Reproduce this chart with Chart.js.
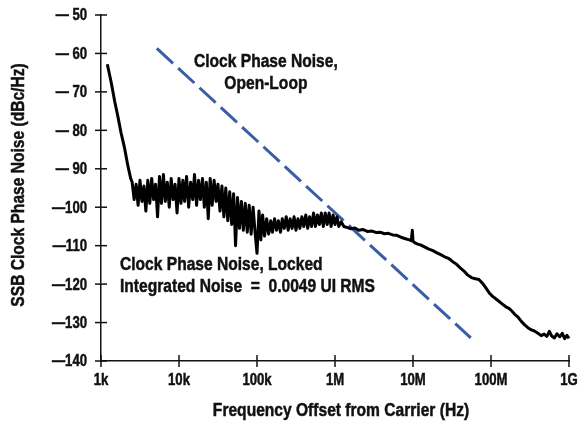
<!DOCTYPE html>
<html lang="en">

<head>
    <meta charset="UTF-8">
    <title>SSB Clock Phase Noise</title>
    <script src="https://cdn.jsdelivr.net/npm/chart.js"></script>
    <style>
        body { margin: 0; background: #fff; }
        .grafico { position: relative; width: 579px; height: 423px; }
    </style>
</head>

<body>
    <div class="grafico">
        <canvas id="graficoRuido"></canvas>
    </div>

    <script>
        // curva travada (frequencia em Hz, ruido em dBc/Hz)
        const freqHz = [
            1205, 1350, 1500, 1650, 1800, 2000, 2200, 2400,
            2510, 2660, 2820, 2990, 3160, 3350, 3550, 3760, 3980, 4220, 4470, 4730,
            5010, 5310, 5620, 5960, 6310, 6680, 7080, 7500, 7940, 8410, 8910, 9440,
            10000, 10600, 11200, 11800, 12500, 13300, 14100, 15000, 15800, 16800,
            17800, 18800, 20000, 21100, 22400, 23700, 25100, 26600, 28200, 29900,
            31600, 33500, 35500, 37600, 39800, 42200, 44700, 47300, 50100, 53100,
            56200, 59600, 63100, 66800, 70800, 75000, 79400, 84100, 89100, 94400,
            100000, 106000, 112000, 118000, 125000, 133000, 141000, 150000, 158000, 168000,
            178000, 188000, 200000, 211000, 224000, 237000, 251000, 266000, 282000, 299000,
            316000, 335000, 355000, 376000, 398000, 422000, 447000, 473000, 501000, 531000,
            562000, 596000, 631000, 668000, 708000, 750000, 794000, 841000, 891000, 944000,
            1000000, 1060000, 1120000, 1200000, 1300000, 1450000, 1600000, 1800000,
            2000000, 2300000, 2600000, 3000000, 3400000, 3800000, 4300000, 4800000,
            5500000, 6200000, 7000000, 8000000, 9000000, 9500000, 9800000, 10000000,
            10600000, 11500000, 12500000, 14000000, 16000000, 18000000, 20000000, 23000000,
            26000000, 29000000, 32000000, 36000000, 40000000, 45000000, 50000000, 56000000,
            63000000, 70000000, 78000000, 86000000, 95000000, 105000000, 115000000, 125000000,
            140000000, 155000000, 170000000, 185000000, 200000000, 220000000, 245000000, 270000000,
            300000000, 330000000, 360000000, 400000000, 440000000, 480000000, 520000000, 560000000,
            600000000, 650000000, 700000000, 760000000, 820000000, 880000000, 940000000, 1000000000,
            1080000000, 1150000000
        ];
        const lockedDb = [
            -62.8, -67.5, -72.5, -76.5, -80.5, -84.5, -89, -92.5,
            -93.5, -98, -94, -99.5, -93, -98.5, -94.5, -101, -93, -99, -92.5, -98,
            -94, -102.5, -92, -99, -91.5, -98.5, -93.5, -100, -92.5, -98, -94, -101.5,
            -92.5, -99, -93, -98.5, -92, -100, -93.5, -98, -91.5, -99.5,
            -93, -98, -92.5, -100, -93.5, -103, -92.5, -99.5, -93, -98.5,
            -94, -101, -94.5, -102.5, -95, -103.5, -96, -104.5, -96.5, -110,
            -97.5, -105.5, -98.5, -106, -99, -106.5, -99.5, -107, -100, -106.5,
            -112, -101, -108.5, -102, -107.5, -103, -107, -103.5, -106.5, -103,
            -106, -103.5, -106.5, -103, -105.5, -102.5, -106, -103, -105.5, -102.5,
            -106, -103, -105.5, -102.5, -105, -102, -105.5, -102.5, -105, -101.5,
            -105, -102, -104.5, -101.5, -105, -101.5, -104.5, -101.5, -105, -102,
            -104.5, -102.5, -105, -103.8, -105, -105.3, -105.6, -105.4,
            -106, -105.8, -106.3, -106.2, -106.6, -106.5, -106.9, -106.8,
            -107.2, -107.3, -107.8, -108.2, -108.5, -108.7, -106, -108.8,
            -109.3, -109.6, -109.8, -110.3, -110.9, -111.3, -111.8, -112.4,
            -113.0, -113.4, -114.1, -114.8, -115.7, -116.6, -117.6, -118.3,
            -118.6, -118.8, -119.8, -121.0, -122.3, -123.2, -123.8, -124.4,
            -125.2, -125.9, -126.3, -127.0, -127.8, -128.5, -129.7, -130.6,
            -131.4, -131.9, -132.2, -132.8, -133.4, -133.0, -133.6, -132.3,
            -133.5, -134.0, -132.9, -133.7, -132.8, -134.2, -133.3, -134.1,
            -133.8, -135.0
        ];

        // reta tracejada (malha aberta)
        const openLoopHz = [5200, 55000000];
        const openLoopDb = [-58.7, -134];

        const xTickValues = [1e3, 1e4, 1e5, 1e6, 1e7, 1e8, 1e9];
        const xTickLabels = ['1k', '10k', '100k', '1M', '10M', '100M', '1G'];
        const yTickValues = [-140, -130, -120, -110, -100, -90, -80, -70, -60, -50];
        const yTickLabels = ['\u2014140', '\u2014130', '\u2014120', '\u2014110', '\u2014100',
            '\u2014 90', '\u2014 80', '\u2014 70', '\u2014 60', '\u2014 50'];

        const tituloX = 'Frequency Offset from Carrier (Hz)';
        const tituloY = 'SSB Clock Phase Noise (dBc/Hz)';

        const notas = [
            { texto: 'Clock Phase Noise,', f: 130000, db: -62.2, align: 'center' },
            { texto: 'Open-Loop', f: 130000, db: -67.9, align: 'center' },
            { texto: 'Clock Phase Noise, Locked', f: 1752, db: -114.9, align: 'left' },
            { texto: 'Integrated Noise  =  0.0049 UI RMS', f: 1752, db: -120.6, align: 'left' }
        ];

        const fonte = "'Liberation Sans', Arial, sans-serif";
        const cor = '#111';

        // texto em negrito "estreito" (a figura usa uma fonte condensada)
        function textoEstreito(ctx, texto, x, y, align, tamanho, rotacao) {
            ctx.save();
            ctx.font = 'bold ' + tamanho + 'px ' + fonte;
            ctx.fillStyle = cor;
            ctx.strokeStyle = cor;
            ctx.lineWidth = 0.5;
            ctx.textAlign = align;
            ctx.textBaseline = 'middle';
            ctx.translate(x, y);
            if (rotacao) ctx.rotate(rotacao);
            ctx.scale(0.82, 1);
            ctx.fillText(texto, 0, 0);
            ctx.strokeText(texto, 0, 0);
            ctx.restore();
        }

        // marcas cruzando os eixos, rotulos, titulos e notas
        const eixosENotas = {
            id: 'eixosENotas',
            afterDraw(chart) {
                const ctx = chart.ctx;
                const sx = chart.scales.x;
                const sy = chart.scales.y;
                ctx.save();
                ctx.strokeStyle = cor;
                ctx.lineWidth = 1.5;
                yTickValues.forEach((v, i) => {
                    const py = sy.getPixelForValue(v);
                    ctx.beginPath();
                    ctx.moveTo(sx.left - 6, py);
                    ctx.lineTo(sx.left + 6, py);
                    ctx.stroke();
                    textoEstreito(ctx, yTickLabels[i], sx.left - 14, py + 1, 'right', 16);
                });
                xTickValues.forEach((v, i) => {
                    const px = sx.getPixelForValue(v);
                    ctx.beginPath();
                    ctx.moveTo(px, sy.bottom - 6);
                    ctx.lineTo(px, sy.bottom + 6);
                    ctx.stroke();
                    textoEstreito(ctx, xTickLabels[i], px, sy.bottom + 20, 'center', 16);
                });
                ctx.restore();

                textoEstreito(ctx, tituloX, (sx.left + sx.right) / 2 + 6, 411, 'center', 19);
                textoEstreito(ctx, tituloY, 18.5, (sy.top + sy.bottom) / 2 - 3, 'center', 19, -Math.PI / 2);

                notas.forEach(n => {
                    textoEstreito(ctx, n.texto, sx.getPixelForValue(n.f), sy.getPixelForValue(n.db), n.align, 19);
                });
            }
        };

        function montarPontos(xs, ys) {
            let pontos = [];
            for (let i = 0; i < xs.length; i++) {
                pontos.push({ x: xs[i], y: ys[i] });
            }
            return pontos;
        }

        function plotarGrafico() {
            const config = {
                type: 'line',
                data: {
                    datasets: [{
                        label: 'Locked',
                        data: montarPontos(freqHz, lockedDb),
                        borderColor: '#000',
                        borderWidth: 3,
                        borderJoinStyle: 'round',
                        pointRadius: 0,
                        tension: 0,
                        clip: 6
                    }, {
                        label: 'Open-Loop',
                        data: montarPontos(openLoopHz, openLoopDb),
                        borderColor: '#3a5da8',
                        borderWidth: 3,
                        borderDash: [22, 7],
                        pointRadius: 0,
                        tension: 0
                    }]
                },
                options: {
                    responsive: true,
                    maintainAspectRatio: false,
                    animation: false,
                    layout: { padding: { top: 15, right: 10, left: 0, bottom: 0 } },
                    plugins: {
                        legend: { display: false },
                        tooltip: { enabled: false }
                    },
                    scales: {
                        x: {
                            type: 'logarithmic',
                            min: 1e3,
                            max: 1e9,
                            afterBuildTicks: scale => {
                                scale.ticks = xTickValues.map(v => ({ value: v }));
                            },
                            afterFit: scale => { scale.height = 62; },
                            ticks: { display: false },
                            grid: { display: false },
                            border: { color: cor, width: 1.5 }
                        },
                        y: {
                            min: -140,
                            max: -50,
                            afterBuildTicks: scale => {
                                scale.ticks = yTickValues.map(v => ({ value: v }));
                            },
                            afterFit: scale => { scale.width = 101; },
                            ticks: { display: false },
                            grid: { display: false },
                            border: { color: cor, width: 1.5 }
                        }
                    }
                },
                plugins: [eixosENotas]
            };

            new Chart(document.getElementById('graficoRuido'), config);
        }

        plotarGrafico();
    </script>
</body>

</html>
